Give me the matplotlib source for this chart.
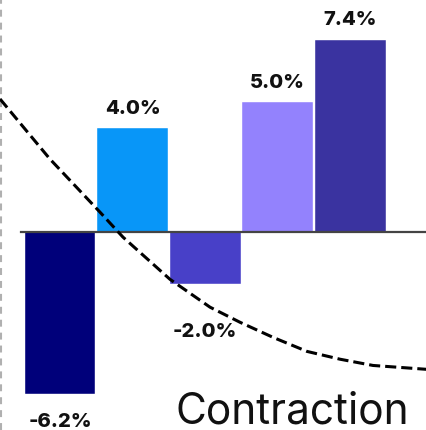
import matplotlib
matplotlib.use("Agg")
import matplotlib.pyplot as plt

# ---- data ----
categories = ["A", "B", "C", "D", "E"]
values = [-6.2, 4.0, -2.0, 5.0, 7.4]
labels = ["-6.2%", "4.0%", "-2.0%", "5.0%", "7.4%"]
bar_colors = ["#00007A", "#0896F8", "#4840C8", "#9382FD", "#3A33A0"]
label_offsets = [-1.05, 0.78, -1.8, 0.78, 0.78]

curve_x = [-0.826, -0.138, 0.551, 0.868, 1.515, 2.066, 2.479, 2.934, 3.402, 3.857, 4.311, 5.055]
curve_y = [5.12, 2.81, 0.77, -0.19, -1.81, -2.88, -3.46, -4.04, -4.58, -4.88, -5.12, -5.27]

annotation = "Contraction"

plt.rcParams['lines.scale_dashes'] = False
plt.rcParams['font.family'] = ['Inter', 'DejaVu Sans']

fig = plt.figure(figsize=(4.27, 4.31), dpi=100)
ax = fig.add_axes([0, 0, 1, 1])
ax.set_xlim(-0.826, 5.055)
ax.set_ylim(-7.6, 8.96)
ax.axis('off')

xs = list(range(len(categories)))
ax.bar(xs, values, width=0.975, color=bar_colors, edgecolor='white', linewidth=0.3, zorder=2)

ax.axhline(0, xmin=0.05, xmax=0.998, color='#444444', lw=1.6, zorder=3)
ax.axvline(-0.818, color='#b0b0b0', lw=1.5, linestyle=(0, (5, 4.3)), zorder=1)

ax.plot(curve_x, curve_y, color='black', lw=2.2, linestyle=(0, (8, 3.6)),
        solid_joinstyle='round', dash_joinstyle='round', zorder=4)

for x, v, lab, off in zip(xs, values, labels, label_offsets):
    ax.text(x, v + off, lab, ha='center', va='center', fontsize=14.5, fontweight='heavy', color='#111111', zorder=5)

ax.text(3.2, -6.88, annotation, ha='center', va='center', fontsize=30.5, color='#111111')

fig.savefig("out.png", dpi=100)
